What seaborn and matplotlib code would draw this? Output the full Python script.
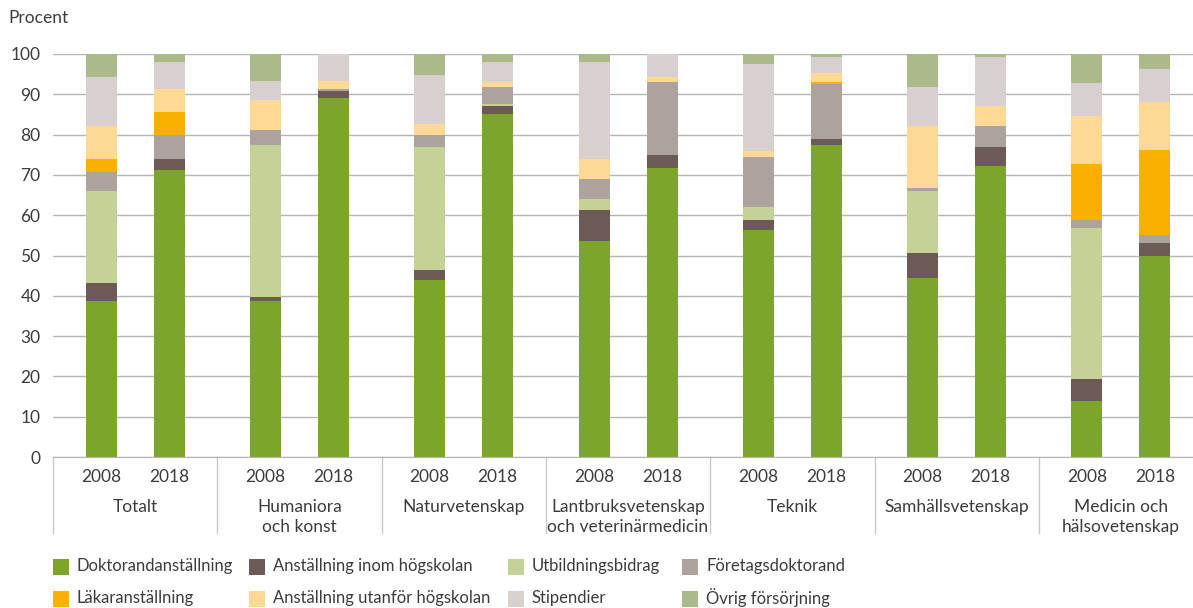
import numpy as np
import pandas as pd
import matplotlib
matplotlib.use('Agg')
import matplotlib.pyplot as plt
from matplotlib.patches import Rectangle
import seaborn as sns

# ----- data (percent per funding type, order: category x year) -----
categories = ['Totalt', 'Humaniora\noch konst', 'Naturvetenskap',
              'Lantbruksvetenskap\noch veterinärmedicin', 'Teknik',
              'Samhällsvetenskap', 'Medicin och\nhälsovetenskap']
years = ['2008', '2018']

doktorand = [38.8, 71.1, 38.8, 89.2, 43.8, 85.2, 53.5, 71.6, 56.4, 77.5, 44.5, 72.1, 13.8, 50.0]
inom_hs = [4.3, 2.9, 1.0, 1.5, 2.7, 2.0, 7.7, 3.4, 2.5, 1.3, 6.0, 4.7, 5.5, 3.0]
utbildning = [23.0, 0, 37.5, 0, 30.5, 0.5, 2.9, 0, 3.2, 0, 15.6, 0, 37.6, 0]
foretag = [4.5, 5.8, 3.9, 0.5, 2.8, 4.0, 5.0, 18.1, 12.4, 13.8, 0.6, 5.4, 1.8, 2.0]
lakare = [3.4, 5.9, 0, 0, 0, 0, 0, 0, 0, 0.5, 0, 0, 13.9, 21.3]
utanfor_hs = [8.2, 5.5, 7.5, 2.2, 2.9, 1.4, 4.9, 1.3, 1.5, 2.3, 15.5, 5.0, 12.1, 11.9]
stipendier = [12.2, 6.7, 4.7, 6.6, 12.2, 4.8, 23.9, 5.6, 21.4, 3.9, 9.5, 12.1, 8.2, 8.2]
ovrig = [5.6, 2.1, 6.6, 0, 5.1, 2.1, 2.1, 0, 2.6, 0.7, 8.3, 0.7, 7.1, 3.6]

series_names = ['Doktorandanställning', 'Anställning inom högskolan', 'Utbildningsbidrag',
                'Företagsdoktorand', 'Läkaranställning', 'Anställning utanför högskolan',
                'Stipendier', 'Övrig försörjning']
series_vals = [doktorand, inom_hs, utbildning, foretag, lakare, utanfor_hs, stipendier, ovrig]
colors = ['#7ba52c', '#6b5a55', '#c5d296', '#ada39e', '#f9b000', '#fdd995', '#d8d0ce', '#abb98b']

# ----- style -----
sns.set_style('white')
plt.rcParams['font.family'] = ['Lato', 'DejaVu Sans']
txt_col = '#3c3c3c'
grid_col = '#b5b5b5'
fs = 12.5
W, H = 1193, 608

# bar positions: group i spans [i, i+1), two bars per group
offs = [0.293, 0.707]
pos = [i + o for i in range(len(categories)) for o in offs]

df = pd.DataFrame({'pos': pos})
cum = np.zeros(len(pos))
for name, vals in zip(series_names, series_vals):
    cum = cum + np.array(vals, dtype=float)
    df[name] = cum

fig = plt.figure(figsize=(W / 100, H / 100), dpi=100)
ax = fig.add_axes([53 / W, 1 - 457 / H, 1 - 53 / W, 403 / H])

# draw cumulative totals from the top series down so each covers the one above
for name, c in reversed(list(zip(series_names, colors))):
    sns.barplot(data=df, x='pos', y=name, native_scale=True, width=0.456,
                color=c, saturation=1, linewidth=0, errorbar=None, ax=ax)

ax.set_xlim(0, (W - 53) / 164.3)
ax.set_ylim(0, 100)
ax.set_yticks(range(0, 101, 10))
ax.set_xticks([])
ax.set_xlabel('')
ax.set_ylabel('')
ax.yaxis.grid(True, color=grid_col, lw=1)
ax.set_axisbelow(True)
for s in ['top', 'right', 'left']:
    ax.spines[s].set_visible(False)
ax.spines['bottom'].set_color(grid_col)
ax.tick_params(axis='y', length=0, pad=9, labelsize=fs, labelcolor=txt_col)

# category axis: separators, years, category names
trans = ax.get_xaxis_transform()
for i in range(len(categories) + 1):
    ax.plot([i, i], [0, -(533 - 457) / 403], transform=trans, color='#c8c8c8',
            lw=1, clip_on=False)
for k, p in enumerate(pos):
    ax.text(p, -(477 - 457) / 403, years[k % 2], transform=trans, ha='center',
            va='center', fontsize=fs, color=txt_col)
for i, cat in enumerate(categories):
    ax.text(i + 0.5, -(499 - 457) / 403, cat, transform=trans, ha='center',
            va='top', fontsize=fs, color=txt_col, linespacing=1.3)

fig.text(8 / W, 1 - 18 / H, 'Procent', ha='left', va='center',
         fontsize=fs, color=txt_col)

# legend: 2 rows x 4 columns, row-wise
col_x = [53, 249, 508, 682]
row_y = [567, 599]
sq = 15.5
for k, (name, c) in enumerate(zip(series_names, colors)):
    x0 = col_x[k % 4]
    y0 = row_y[k // 4]
    fig.patches.append(Rectangle((x0 / W, 1 - (y0 + sq / 2) / H), sq / W, sq / H,
                                 transform=fig.transFigure, facecolor=c,
                                 edgecolor='none'))
    fig.text((x0 + 24) / W, 1 - (y0 - 1) / H, name, ha='left', va='center',
             fontsize=12, color=txt_col)

fig.savefig('out.png', dpi=100)
